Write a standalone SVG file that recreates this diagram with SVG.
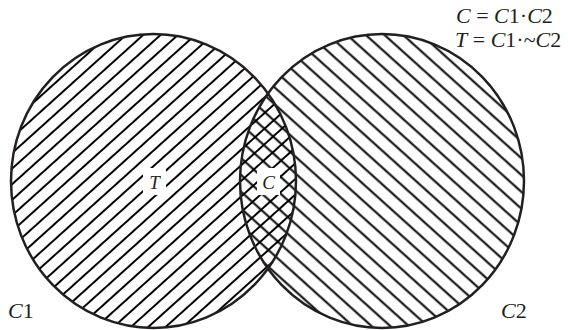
<svg xmlns="http://www.w3.org/2000/svg" width="568" height="330" viewBox="0 0 568 330">
<style>
.outline{fill:none;stroke:#231f20;stroke-width:2.5}
.hl{stroke:#000;stroke-width:2}
.lbl{font-family:"Liberation Serif","Times New Roman",serif;fill:#231f20}
.it{font-style:italic}
.box{fill:#fff}
</style>
<defs>
<pattern id="hatchL" patternUnits="userSpaceOnUse" width="20" height="11.6" patternTransform="rotate(-42)">
<line class="hl" x1="-2" y1="5.8" x2="22" y2="5.8"/>
</pattern>
<pattern id="hatchR" patternUnits="userSpaceOnUse" width="20" height="12.5" patternTransform="rotate(42)">
<line class="hl" x1="-2" y1="6.2" x2="22" y2="6.2"/>
</pattern>
</defs>
<rect width="568" height="330" fill="#fff"/>
<g id="node-C1">
<ellipse cx="153.5" cy="181" rx="142.5" ry="147" fill="url(#hatchL)"/>
</g>
<g id="node-C2">
<ellipse cx="382" cy="181" rx="142" ry="147" fill="url(#hatchR)"/>
</g>
<g id="outlines">
<ellipse class="outline" cx="153.5" cy="181" rx="142.5" ry="147"/>
<ellipse class="outline" cx="382" cy="181" rx="142" ry="147"/>
</g>
<g id="connectors"/>
<g id="label-T">
<rect class="box" x="143" y="168" width="23" height="27"/>
<text class="lbl it" x="154.5" y="189" font-size="19" text-anchor="middle">T</text>
</g>
<g id="label-C">
<rect class="box" x="257" y="168" width="23" height="27"/>
<text class="lbl it" x="268.5" y="189" font-size="19" text-anchor="middle">C</text>
</g>
<g id="label-C1">
<text class="lbl" x="8" y="318" font-size="22"><tspan class="it">C</tspan>1</text>
</g>
<g id="label-C2">
<text class="lbl" x="501" y="318" font-size="22"><tspan class="it">C</tspan>2</text>
</g>
<g id="equations">
<text class="lbl" x="456" y="23" font-size="22"><tspan class="it">C</tspan> = <tspan class="it">C</tspan>1·<tspan class="it">C</tspan>2</text>
<text class="lbl" x="455" y="46.5" font-size="22"><tspan class="it">T</tspan> = <tspan class="it">C</tspan>1·~<tspan class="it">C</tspan>2</text>
</g>
</svg>
